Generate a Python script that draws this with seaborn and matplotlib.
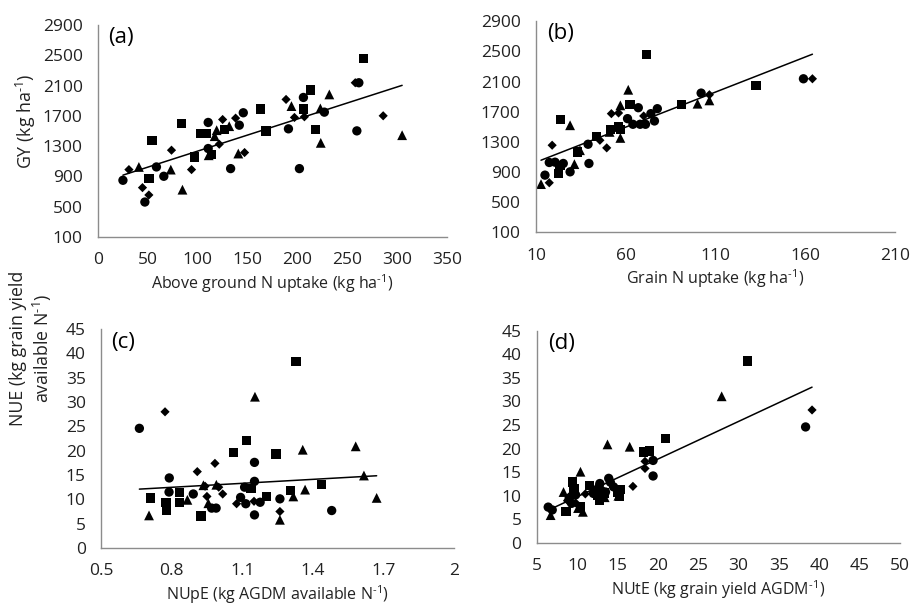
import numpy as np
import pandas as pd
import seaborn as sns
import matplotlib.pyplot as plt
from matplotlib.ticker import FuncFormatter

# ---- panel (a): above ground N uptake vs GY ----
a_circle_x = [25, 47, 58.6, 66, 110.5, 110.5, 133, 141.7, 145.7, 191, 202, 206, 227, 259.6, 261.6]
a_circle_y = [850, 563, 1026, 903, 1269, 1613, 1004, 1577, 1741, 1529, 1004, 1943, 1749, 1502, 2137]
a_square_x = [51, 54, 84, 97, 103, 109, 114, 127, 163, 168.5, 206, 213, 218, 266.6]
a_square_y = [872, 1379, 1599, 1158, 1467, 1467, 1189, 1524, 1789, 1502, 1789, 2040, 1524, 2459]
a_diamond_x = [31, 44.6, 51, 73.7, 93.8, 121.6, 125, 138, 147, 188.6, 197, 207, 258, 286]
a_diamond_y = [991, 753, 656, 1247, 991, 1326, 1652, 1670, 1216, 1917, 1679, 1688, 2137, 1701]
a_triangle_x = [41, 73, 84.7, 111, 117, 119, 131.6, 140.7, 194, 223, 223.4, 232, 305]
a_triangle_y = [1026, 991, 726, 1180, 1432, 1511, 1564, 1203, 1829, 1798, 1344, 1983, 1445]

# ---- panel (b): grain N uptake vs GY ----
b_circle_x = [15, 17.4, 20.6, 25.2, 29, 39, 39.5, 61, 67, 64, 68, 71, 74, 76, 77.6, 102, 159]
b_circle_y = [858, 1026, 1030, 1013, 902, 1268, 1013, 1608, 1753, 1533, 1533, 1533, 1674, 1577, 1740, 1947, 2137]
b_square_x = [22.4, 23.4, 23.7, 33, 43.8, 51.6, 56, 57, 62.4, 71.7, 91, 132.6]
b_square_y = [880, 990, 1599, 1167, 1374, 1467, 1506, 1467, 1797, 2459, 1797, 2049]
b_diamond_x = [17.4, 19, 45.6, 49.4, 52, 56, 70, 106.6, 164]
b_diamond_y = [757, 1255, 1321, 1220, 1674, 1683, 1643, 1925, 2137]
b_triangle_x = [12.8, 29, 31.4, 34.5, 51, 57, 57, 61.4, 100, 106.6]
b_triangle_y = [739, 1520, 1004, 1189, 1432, 1352, 1784, 1991, 1806, 1850]

# ---- panel (c): NUpE vs NUE ----
c_circle_x = [0.663, 0.790, 0.789, 0.892, 0.97, 0.989, 1.093, 1.115, 1.11, 1.152, 1.152, 1.152, 1.176, 1.26, 1.48]
c_circle_y = [24.6, 14.4, 11.5, 11.1, 8.2, 8.2, 10.4, 9.1, 12.5, 17.6, 13.7, 6.8, 9.4, 10.1, 7.7]
c_square_x = [0.711, 0.776, 0.779, 0.833, 0.833, 0.925, 1.062, 1.119, 1.137, 1.204, 1.244, 1.306, 1.329, 1.438]
c_square_y = [10.3, 9.4, 7.7, 11.4, 9.4, 6.6, 19.6, 22.1, 12.3, 10.6, 19.3, 11.8, 38.4, 13.0]
c_diamond_x = [0.772, 0.909, 0.942, 0.984, 1.017, 1.076, 1.26, 0.95, 1.0, 1.15]
c_diamond_y = [28.0, 15.7, 12.7, 17.4, 11.1, 9.1, 7.5, 10.6, 12.5, 9.6]
c_triangle_x = [0.704, 0.867, 0.956, 0.935, 0.99, 1.154, 1.26, 1.317, 1.357, 1.367, 1.582, 1.617, 1.671]
c_triangle_y = [6.7, 9.9, 9.2, 12.9, 13.0, 31.1, 5.8, 10.6, 20.2, 12.0, 20.9, 14.9, 10.3]

# ---- panel (d): NUtE vs NUE ----
d_circle_x = [6.4, 6.9, 9.0, 9.8, 12.0, 12.8, 13.9, 14.1, 14.5, 13.5, 19.4, 19.4, 38.3, 9.3]
d_circle_y = [7.6, 7.0, 9.5, 10.2, 10.5, 12.6, 13.7, 12.9, 11.9, 10.8, 17.5, 14.2, 24.6, 8.4]
d_square_x = [8.6, 9.4, 9.6, 10.4, 11.5, 12.5, 12.8, 13.3, 15.0, 15.2, 15.3, 18.2, 18.95, 20.9, 31.1]
d_square_y = [6.7, 12.9, 11.5, 7.6, 12.2, 10.0, 9.1, 10.6, 10.8, 9.8, 11.4, 19.3, 19.5, 22.1, 38.6]
d_diamond_x = [6.6, 8.8, 9.2, 11.0, 12.2, 13.0, 16.9, 18.4, 18.4, 39.1, 9.8]
d_diamond_y = [7.3, 9.0, 10.0, 10.4, 11.2, 11.5, 12.0, 17.3, 15.8, 28.2, 8.5]
d_triangle_x = [6.7, 8.3, 8.9, 10.4, 10.7, 10.1, 12.3, 13.4, 13.75, 16.5, 27.9, 15.1, 9.5]
d_triangle_y = [5.9, 10.8, 9.7, 15.1, 6.6, 7.4, 11.7, 9.7, 20.9, 20.4, 31.1, 10.0, 10.9]


def make_df(cx, cy, sx, sy, dx, dy, tx, ty):
    parts = []
    for name, xs, ys in [("circle", cx, cy), ("square", sx, sy),
                         ("diamond", dx, dy), ("triangle", tx, ty)]:
        parts.append(pd.DataFrame({"x": xs, "y": ys, "group": name}))
    return pd.concat(parts, ignore_index=True)


sns.set_style("white")
plt.rcParams['font.family'] = ['Open Sans', 'DejaVu Sans']
plt.rcParams['mathtext.fontset'] = 'custom'
plt.rcParams['mathtext.rm'] = 'Open Sans'
plt.rcParams['mathtext.it'] = 'Open Sans:italic'

markers = {"circle": "o", "square": "s", "diamond": "D", "triangle": "^"}
sizes = {"circle": 45, "square": 45, "diamond": 22, "triangle": 50}

SUP = "$^{\u2010\\mathrm{1}}$"

fig = plt.figure(figsize=(9.1, 6.08), dpi=100)

panels = [
    # df, axes rect, xlim, xticks, ylim, yticks, xlabel, ylabel, ylabel pos, tag
    (make_df(a_circle_x, a_circle_y, a_square_x, a_square_y, a_diamond_x, a_diamond_y, a_triangle_x, a_triangle_y),
     [0.1077, 0.610, 0.3835, 0.349], (0, 350), np.arange(0, 351, 50), (100, 2900), np.arange(100, 2901, 400),
     "Above ground N uptake (kg ha" + SUP + ")", "GY (kg ha" + SUP + ")", (-0.173, 0.545), "(a)"),
    (make_df(b_circle_x, b_circle_y, b_square_x, b_square_y, b_diamond_x, b_diamond_y, b_triangle_x, b_triangle_y),
     [0.589, 0.618, 0.3945, 0.347], (10, 210), np.arange(10, 211, 50), (100, 2900), np.arange(100, 2901, 400),
     "Grain N uptake (kg ha" + SUP + ")", "", None, "(b)"),
    (make_df(c_circle_x, c_circle_y, c_square_x, c_square_y, c_diamond_x, c_diamond_y, c_triangle_x, c_triangle_y),
     [0.111, 0.0987, 0.388, 0.360], (0.5, 2.0), [0.5, 0.8, 1.1, 1.4, 1.7, 2.0], (0, 45), np.arange(0, 46, 5),
     "NUpE (kg AGDM available N" + SUP + ")", "NUE (kg grain yield\navailable N" + SUP + ")", (-0.133, 0.91), "(c)"),
    (make_df(d_circle_x, d_circle_y, d_square_x, d_square_y, d_diamond_x, d_diamond_y, d_triangle_x, d_triangle_y),
     [0.590, 0.107, 0.399, 0.349], (5, 50), np.arange(5, 51, 5), (0, 45), np.arange(0, 46, 5),
     "NUtE (kg grain yield AGDM" + SUP + ")", "", None, "(d)"),
]

for df, rect, xlim, xticks, ylim, yticks, xlabel, ylabel, ypos, tag in panels:
    ax = fig.add_axes(rect)
    sns.scatterplot(data=df, x="x", y="y", style="group", size="group",
                    markers=markers, sizes=sizes, color="black",
                    edgecolor="none", legend=False, ax=ax)
    sns.regplot(data=df, x="x", y="y", scatter=False, ci=None, color="black",
                line_kws={"lw": 1.1}, ax=ax)
    ax.set_xlim(*xlim)
    ax.set_ylim(*ylim)
    ax.set_xticks(xticks)
    ax.set_yticks(yticks)
    ax.xaxis.set_major_formatter(FuncFormatter(lambda v, p: f"{v:g}"))
    ax.yaxis.set_major_formatter(FuncFormatter(lambda v, p: f"{v:g}"))
    ax.set_xlabel(xlabel, fontsize=11.5, color="#222222", labelpad=3)
    ax.set_ylabel(ylabel, fontsize=12.8, color="#222222", linespacing=1.2)
    if ypos is not None:
        ax.yaxis.set_label_coords(*ypos)
    for s in ["top", "right"]:
        ax.spines[s].set_visible(False)
    for s in ["left", "bottom"]:
        ax.spines[s].set_color("#8c8c8c")
        ax.spines[s].set_linewidth(1)
    ax.tick_params(axis="both", direction="out", length=5, width=1, color="#8c8c8c",
                   labelsize=12.5, labelcolor="#222222")
    ax.tick_params(axis="y", pad=6)
    ax.tick_params(axis="x", pad=6)
    ax.text(0.03, 0.94, tag, transform=ax.transAxes, fontsize=16, va="center", ha="left", color="black")

fig.savefig("out.png", dpi=100)
